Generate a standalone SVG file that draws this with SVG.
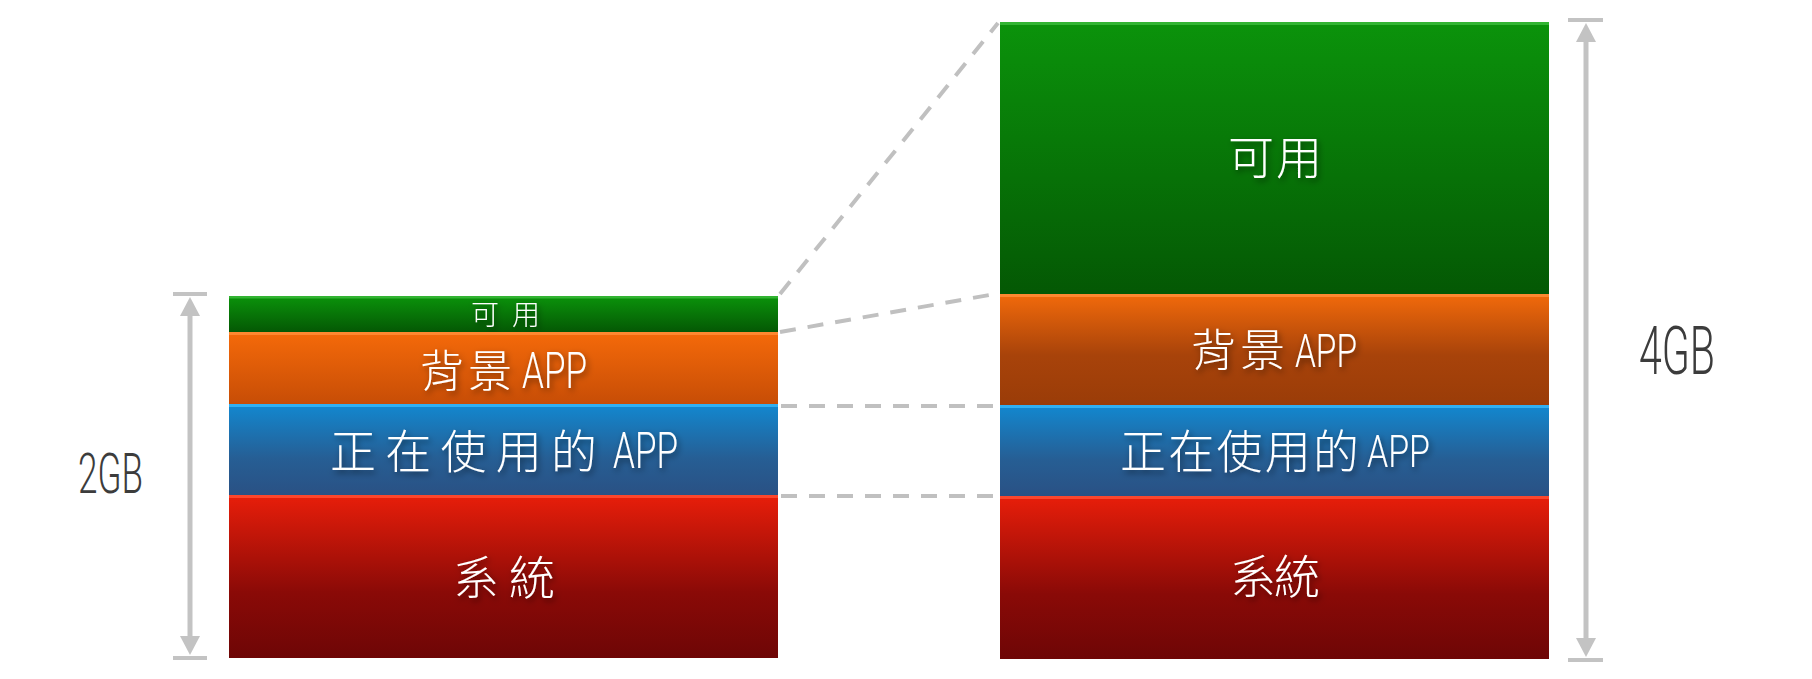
<svg xmlns="http://www.w3.org/2000/svg" width="1812" height="679" viewBox="0 0 1812 679">
<defs>
<linearGradient id="gG" x1="0" y1="0" x2="0" y2="1"><stop offset="0" stop-color="#0b930b"/><stop offset="1" stop-color="#045804"/></linearGradient>
<linearGradient id="gO1" x1="0" y1="0" x2="0" y2="1"><stop offset="0" stop-color="#f56a0a"/><stop offset="1" stop-color="#c74d06"/></linearGradient>
<linearGradient id="gO2" x1="0" y1="0" x2="0" y2="1"><stop offset="0" stop-color="#f26a0b"/><stop offset="0.55" stop-color="#a8430a"/><stop offset="1" stop-color="#9a3c08"/></linearGradient>
<linearGradient id="gB" x1="0" y1="0" x2="0" y2="1"><stop offset="0" stop-color="#1288d0"/><stop offset="0.6" stop-color="#265e94"/><stop offset="1" stop-color="#2a5184"/></linearGradient>
<linearGradient id="gR" x1="0" y1="0" x2="0" y2="1"><stop offset="0" stop-color="#e81e0a"/><stop offset="0.6" stop-color="#8a0a07"/><stop offset="1" stop-color="#6e0606"/></linearGradient>
<filter id="sh" x="-20%" y="-40%" width="140%" height="180%"><feDropShadow dx="2" dy="3" stdDeviation="3" flood-color="#000" flood-opacity="0.5"/></filter>
</defs>
<style>
.cj{font-family:"Noto Sans CJK TC","Noto Sans CJK SC",sans-serif;font-weight:300;fill:#fff;filter:url(#sh)}
.lt{font-family:Roboto,"Liberation Sans",sans-serif;font-weight:300;fill:#fff;filter:url(#sh)}
.gb{font-family:Roboto,"Liberation Sans",sans-serif;font-weight:300;fill:#3c3c3c}
.dash{stroke:#c0c0c0;stroke-width:4;stroke-dasharray:16 12;fill:none}
.ax{stroke:#c3c3c3;fill:none}
.ah{fill:#c3c3c3}
.hl{opacity:0.9}
</style>

<g id="left-block">
<g id="left-available">
<rect x="229" y="296" width="549" height="36" fill="url(#gG)"/>
<rect x="229" y="296" width="549" height="2.5" fill="#36b836" class="hl"/>
<text class="cj" x="471" y="325" font-size="28" textLength="69" lengthAdjust="spacing">可用</text>
</g>
<g id="left-background">
<rect x="229" y="332" width="549" height="72" fill="url(#gO1)"/>
<rect x="229" y="332" width="549" height="3" fill="#ff8c34" class="hl"/>
<text class="cj" x="420" y="387" font-size="44" textLength="92" lengthAdjust="spacing">背景</text>
<text class="lt" x="522" y="388" font-size="50" textLength="65" lengthAdjust="spacingAndGlyphs">APP</text>
</g>
<g id="left-inuse">
<rect x="229" y="404" width="549" height="91" fill="url(#gB)"/>
<rect x="229" y="404" width="549" height="3" fill="#35b4f4" class="hl"/>
<text class="cj" x="330" y="468" font-size="46" textLength="267" lengthAdjust="spacing">正在使用的</text>
<text class="lt" x="613" y="468" font-size="50" textLength="65" lengthAdjust="spacingAndGlyphs">APP</text>
</g>
<g id="left-system">
<rect x="229" y="495" width="549" height="163" fill="url(#gR)"/>
<rect x="229" y="495" width="549" height="3" fill="#ff4a30" class="hl"/>
<text class="cj" x="453" y="594" font-size="46" textLength="102" lengthAdjust="spacing">系統</text>
</g>
</g>

<g id="right-block">
<g id="right-available">
<rect x="1000" y="22" width="549" height="272" fill="url(#gG)"/>
<rect x="1000" y="22" width="549" height="3" fill="#36b836" class="hl"/>
<text class="cj" x="1228" y="174" font-size="46" textLength="94" lengthAdjust="spacing">可用</text>
</g>
<g id="right-background">
<rect x="1000" y="294" width="549" height="111" fill="url(#gO2)"/>
<rect x="1000" y="294" width="549" height="3" fill="#ff8c34" class="hl"/>
<text class="cj" x="1191" y="367" font-size="45" textLength="94" lengthAdjust="spacing">背景</text>
<text class="lt" x="1295" y="367" font-size="47" textLength="62" lengthAdjust="spacingAndGlyphs">APP</text>
</g>
<g id="right-inuse">
<rect x="1000" y="405" width="549" height="91" fill="url(#gB)"/>
<rect x="1000" y="405" width="549" height="3" fill="#35b4f4" class="hl"/>
<text class="cj" x="1120" y="468" font-size="46" textLength="239" lengthAdjust="spacing">正在使用的</text>
<text class="lt" x="1367" y="467" font-size="45" textLength="63" lengthAdjust="spacingAndGlyphs">APP</text>
</g>
<g id="right-system">
<rect x="1000" y="496" width="549" height="163" fill="url(#gR)"/>
<rect x="1000" y="496" width="549" height="3" fill="#ff4a30" class="hl"/>
<text class="cj" x="1230" y="593" font-size="46" textLength="90" lengthAdjust="spacing">系統</text>
</g>
</g>

<g id="connectors">
<line class="dash" x1="781" y1="406" x2="995" y2="406"/>
<line class="dash" x1="781" y1="496" x2="995" y2="496"/>
<line class="dash" x1="780" y1="332" x2="995" y2="294"/>
<line class="dash" x1="780" y1="294" x2="998" y2="23"/>
</g>

<g id="left-dimension">
<line class="ax" x1="190" y1="310" x2="190" y2="644" stroke-width="5"/>
<line class="ax" x1="173" y1="294" x2="207" y2="294" stroke-width="4"/>
<line class="ax" x1="173" y1="658" x2="207" y2="658" stroke-width="4"/>
<polygon class="ah" points="190,297 200,316 180,316"/>
<polygon class="ah" points="190,655 200,636 180,636"/>
<text class="gb" x="78" y="493" font-size="56" textLength="65" lengthAdjust="spacingAndGlyphs">2GB</text>
</g>

<g id="right-dimension">
<line class="ax" x1="1586" y1="36" x2="1586" y2="644" stroke-width="5"/>
<line class="ax" x1="1568" y1="20" x2="1603" y2="20" stroke-width="4"/>
<line class="ax" x1="1568" y1="660" x2="1603" y2="660" stroke-width="4"/>
<polygon class="ah" points="1586,23 1596,42 1576,42"/>
<polygon class="ah" points="1586,657 1596,638 1576,638"/>
<text class="gb" x="1639" y="374" font-size="66" textLength="76" lengthAdjust="spacingAndGlyphs">4GB</text>
</g>
</svg>
